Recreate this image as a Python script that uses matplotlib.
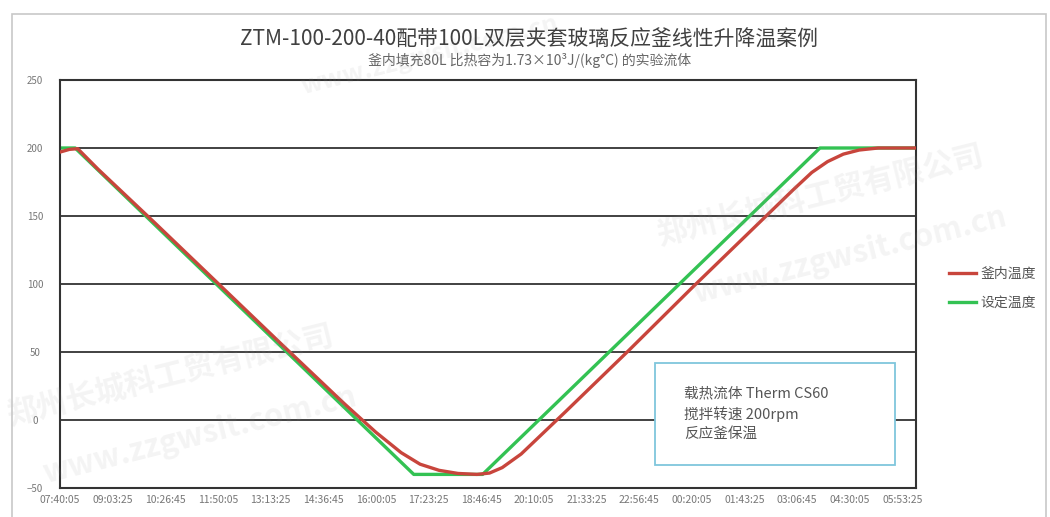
import matplotlib.pyplot as plt
from matplotlib.patches import Rectangle

plt.rcParams['font.family'] = ['Noto Sans CJK SC', 'DejaVu Sans']

# elapsed minutes since 07:40:05, tick every 83 min 20 s
tick_labels = ['07:40:05', '09:03:25', '10:26:45', '11:50:05', '13:13:25', '14:36:45',
               '16:00:05', '17:23:25', '18:46:45', '20:10:05', '21:33:25', '22:56:45',
               '00:20:05', '01:43:25', '03:06:45', '04:30:05', '05:53:25']
tick_step = 83.333

# setpoint temperature (minutes, °C)
set_t = [0, 24, 560, 669, 1203, 1355]
set_v = [200, 200, -40, -40, 200, 200]

# measured temperature inside the kettle (minutes, °C)
kettle_t = [0, 15, 28, 60, 150, 250, 350, 450, 500, 540, 570, 600, 630, 660, 680,
            700, 730, 800, 900, 1000, 1100, 1160, 1190, 1215, 1240, 1265, 1295, 1355]
kettle_v = [197, 199, 199.5, 184.5, 145, 100.5, 56, 12, -9, -24, -32.5, -37, -39.3, -40, -39,
            -35, -25, 6, 51, 97, 142, 169, 182, 190, 195.5, 198.5, 200, 200]

fig = plt.figure(figsize=(10.5, 5.17), dpi=100)
W, H = 1050, 517

# outer chart frame
fig.patches.append(Rectangle((12 / W, -0.01), (1046 - 12) / W, (H - 14) / H + 0.01,
                             transform=fig.transFigure, fill=False, edgecolor='#c8c8c8', lw=1.2))

ax = fig.add_axes([60 / W, (H - 488) / H, (916 - 60) / W, (488 - 80) / H])

ax.plot(kettle_t, kettle_v, color='#c8453c', lw=2.4, label='釜内温度', zorder=3)
ax.plot(set_t, set_v, color='#33c253', lw=2.4, label='设定温度', zorder=2)

ax.set_xlim(0, 1355)
ax.set_ylim(-50, 250)
ax.set_yticks(range(-50, 251, 50))
ax.set_xticks([i * tick_step for i in range(len(tick_labels))])
ax.set_xticklabels(tick_labels)
ax.tick_params(axis='both', length=0, labelcolor='#777777')
ax.tick_params(axis='x', pad=5, labelsize=7.5)
ax.tick_params(axis='y', pad=18, labelsize=7)
for lbl in ax.get_yticklabels():
    lbl.set_horizontalalignment('center')

for y in range(0, 250, 50):
    ax.axhline(y, color='#333333', lw=1.3, zorder=1)
for side in ['left', 'right', 'top', 'bottom']:
    ax.spines[side].set_color('#333333')
    ax.spines[side].set_linewidth(1.5)

# titles
fig.text(529 / W, 1 - 40 / H, 'ZTM-100-200-40配带100L双层夹套玻璃反应釜线性升降温案例',
         ha='center', va='center', fontsize=15, color='#404040')
fig.text(530 / W, 1 - 60 / H, '釜内填充80L 比热容为1.73×10³J/(kg°C) 的实验流体',
         ha='center', va='center', fontsize=10, color='#666666')

# legend
fig.legend(loc='center left', bbox_to_anchor=(936 / W, 1 - 288 / H), frameon=False,
           fontsize=10, handlelength=2.0, handletextpad=0.3, labelspacing=1.1,
           labelcolor='#555555')

# process notes box
fig.patches.append(Rectangle((655 / W, 1 - 465 / H), (895 - 655) / W, (465 - 363) / H,
                             transform=fig.transFigure, facecolor='white',
                             edgecolor='#7fc6dc', lw=1.3, zorder=5))
fig.text(684 / W, 1 - 414 / H, '载热流体 Therm CS60\n搅拌转速 200rpm\n反应釜保温',
         ha='left', va='center', fontsize=10.5, color='#555555', linespacing=1.45, zorder=6)

# company watermark
wm = dict(color='#999999', alpha=0.11, rotation=14, ha='center', va='center',
          fontweight='bold', zorder=0)
fig.text(820 / W, 1 - 195 / H, '郑州长城科工贸有限公司', fontsize=22, **wm)
fig.text(850 / W, 1 - 255 / H, 'www.zzgwsit.com.cn', fontsize=22, **wm)
fig.text(170 / W, 1 - 375 / H, '郑州长城科工贸有限公司', fontsize=22, **wm)
fig.text(200 / W, 1 - 435 / H, 'www.zzgwsit.com.cn', fontsize=22, **wm)
fig.text(430 / W, 1 - 55 / H, 'www.zzgwsit.com.cn', fontsize=18, **wm)

fig.savefig('out.png', dpi=100)
